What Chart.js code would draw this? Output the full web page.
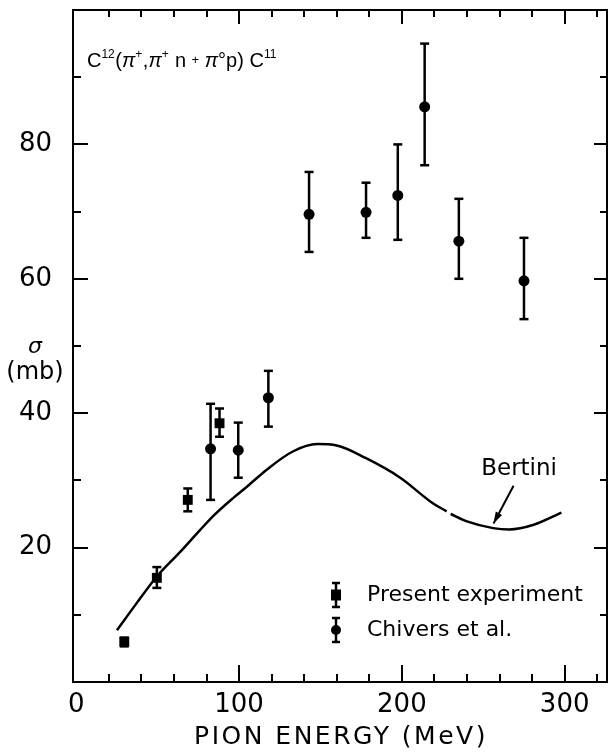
<!DOCTYPE html>
<html><head><meta charset="utf-8">
<script src="https://cdn.jsdelivr.net/npm/chart.js@4"></script>
<style>html,body{margin:0;padding:0;background:#fff;overflow:hidden}#wrap{width:614px;height:756px;position:relative}</style>
</head><body><div id="wrap"><canvas id="c"></canvas></div>
<script>
// ---- data ----
const presentEnergy = [29.5, 49.5, 68.5, 88];
const presentSigma  = [6.0, 15.5, 27.1, 38.5];
const presentLow    = [5.3, 14.0, 25.4, 36.5];
const presentHigh   = [6.6, 17.1, 28.8, 40.7];

const chiversEnergy = [82.5, 99.5, 118, 143, 178, 197.5, 214, 235, 275];
const chiversSigma  = [34.7, 34.5, 42.3, 69.6, 69.9, 72.4, 85.6, 65.6, 59.7];
const chiversLow    = [27.1, 30.4, 38.0, 64.0, 66.1, 65.8, 76.9, 60.0, 54.0];
const chiversHigh   = [41.4, 38.6, 46.3, 75.9, 74.3, 80.0, 95.0, 71.9, 66.1];

const bertiniEnergy = [25, 37, 49.5, 64, 76, 85, 96.5, 105, 117, 133, 148, 160, 178, 199, 219, 227.5, 228.7, 230, 240, 256, 266, 281, 298];
const bertiniSigma  = [7.7, 11.7, 15.7, 19.4, 22.6, 24.9, 27.4, 29.1, 31.6, 34.3, 35.4, 35.2, 33.3, 30.4, 26.6, 25.4, null, 25.0, 23.9, 22.9, 22.7, 23.4, 25.2];

const xTickValues  = [0, 20, 40, 60, 80, 100, 120, 140, 160, 180, 200, 220, 240, 260, 280, 300, 320];
const xLabelValues = [0, 100, 200, 300];
const yTickValues  = [10, 20, 30, 40, 50, 60, 70, 80, 90];
const yLabelValues = [20, 40, 60, 80];

const legendLabels = ['Present experiment', 'Chivers et al.'];
const curveName = 'Bertini';
const xAxisTitle = 'PION ENERGY (MeV)';
const yAxisSymbol = 'σ';
const yAxisUnit = '(mb)';

// ---- rendering ----
const F = '"DejaVu Sans", sans-serif';
const FT = '"Liberation Sans", Arial, sans-serif';
const toXY = (xs, ys) => xs.map((x, i) => ({x: x, y: ys[i]}));

function line(ctx, x1, y1, x2, y2) { ctx.beginPath(); ctx.moveTo(x1, y1); ctx.lineTo(x2, y2); ctx.stroke(); }
function zeroPad(s) { s.paddingTop = 0; s.paddingBottom = 0; s.paddingLeft = 0; s.paddingRight = 0; }

const framePlugin = {
  id: 'frame',
  beforeDatasetsDraw(chart) {
    const ctx = chart.ctx, ca = chart.chartArea, xs = chart.scales.x, ys = chart.scales.y;
    ctx.save();
    ctx.strokeStyle = '#000'; ctx.lineWidth = 2; ctx.lineCap = 'butt';
    ctx.strokeRect(ca.left, ca.top, ca.right - ca.left, ca.bottom - ca.top);
    xs.ticks.forEach(t => {
      if (t.value <= 0 || t.value >= xs.max) return;
      const px = Math.round(xs.getPixelForValue(t.value));
      const major = t.value % 100 === 0;
      line(ctx, px, ca.bottom, px, ca.bottom - (major ? 17 : 8));
      line(ctx, px, ca.top, px, ca.top + (major ? 14 : 7));
    });
    ys.ticks.forEach(t => {
      if (t.value <= 0 || t.value >= ys.max) return;
      const py = Math.round(ys.getPixelForValue(t.value));
      const major = t.value % 20 === 0;
      line(ctx, ca.left, py, ca.left + (major ? 15 : 8), py);
      line(ctx, ca.right, py, ca.right - (major ? 13 : 7), py);
    });
    // error bars
    chart.data.datasets.forEach((ds, i) => {
      if (!ds.errLow) return;
      const meta = chart.getDatasetMeta(i);
      meta.data.forEach((pt, j) => {
        const x = pt.x;
        const yl = ys.getPixelForValue(ds.errLow[j]);
        const yh = ys.getPixelForValue(ds.errHigh[j]);
        ctx.lineWidth = 2.5;
        line(ctx, x, yl, x, yh);
        line(ctx, x - 4.5, yl, x + 4.5, yl);
        line(ctx, x - 4.5, yh, x + 4.5, yh);
      });
    });
    ctx.restore();
  },
  afterDraw(chart) {
    const ctx = chart.ctx, ca = chart.chartArea, xs = chart.scales.x, ys = chart.scales.y;
    ctx.save();
    ctx.fillStyle = '#000'; ctx.strokeStyle = '#000';
    // reaction title
    const runs = [
      {t: 'C'}, {t: '12', sup: 1}, {t: '('}, {t: 'π', it: 1}, {t: '+', sup: 1}, {t: ','},
      {t: 'π', it: 1}, {t: '+', sup: 1}, {t: ' n '}, {t: '+', small: 1}, {t: ' '},
      {t: 'π', it: 1}, {t: '°'}, {t: 'p'}, {t: ') C'}, {t: '11', sup: 1}
    ];
    let x = ca.left + 14; const base = ca.top + 57;
    ctx.textAlign = 'left'; ctx.textBaseline = 'alphabetic';
    runs.forEach(r => {
      let size = 20, dy = 0, style = '';
      if (r.sup) { size = 12; dy = -9; }
      if (r.small) { size = 13; dy = -3; }
      if (r.it) style = 'italic ';
      ctx.font = style + size + 'px ' + FT;
      ctx.fillText(r.t, x, base + dy);
      x += ctx.measureText(r.t).width + (r.sup ? 0.5 : 0);
    });
    // y-axis title
    ctx.textAlign = 'center'; ctx.textBaseline = 'middle';
    ctx.font = 'italic 22px ' + F;
    ctx.fillText(yAxisSymbol, 35, ys.getPixelForValue(50) + 1);
    ctx.font = '24px ' + F;
    ctx.fillText(yAxisUnit, 35, ys.getPixelForValue(50) + 27);
    // x-axis title
    ctx.font = '25px ' + F;
    ctx.letterSpacing = '2.5px';
    ctx.fillText(xAxisTitle, (ca.left + ca.right) / 2 + 1, 737);
    ctx.letterSpacing = '0px';
    // Bertini label and arrow
    ctx.font = '23px ' + F;
    ctx.fillText(curveName, xs.getPixelForValue(272), ys.getPixelForValue(31.7));
    const ax1 = xs.getPixelForValue(268.6), ay1 = ys.getPixelForValue(29.2);
    const ax2 = xs.getPixelForValue(256.3), ay2 = ys.getPixelForValue(23.6);
    ctx.lineWidth = 2;
    line(ctx, ax1, ay1, ax2, ay2);
    const ang = Math.atan2(ay2 - ay1, ax2 - ax1);
    ctx.beginPath();
    ctx.moveTo(ax2, ay2);
    ctx.lineTo(ax2 - 12 * Math.cos(ang - 0.3), ay2 - 12 * Math.sin(ang - 0.3));
    ctx.lineTo(ax2 - 12 * Math.cos(ang + 0.3), ay2 - 12 * Math.sin(ang + 0.3));
    ctx.closePath(); ctx.fill();
    // legend
    ctx.textAlign = 'left'; ctx.font = '22px ' + F;
    const lx = 336, rows = [595, 630];
    ctx.lineWidth = 2.5;
    legendLabels.forEach((lab, i) => {
      const y = rows[i];
      line(ctx, lx, y - 12, lx, y + 12);
      line(ctx, lx - 4, y - 12, lx + 4, y - 12);
      line(ctx, lx - 4, y + 12, lx + 4, y + 12);
      if (i === 0) ctx.fillRect(lx - 5, y - 5.5, 10, 11);
      else { ctx.beginPath(); ctx.arc(lx, y, 5, 0, Math.PI * 2); ctx.fill(); }
      ctx.fillText(lab, lx + 31, y);
    });
    ctx.restore();
  }
};

new Chart(document.getElementById('c'), {
  data: {
    datasets: [
      {
        type: 'line', label: curveName,
        data: toXY(bertiniEnergy, bertiniSigma),
        borderColor: '#000', borderWidth: 2.5, pointRadius: 0,
        tension: 0.4, cubicInterpolationMode: 'monotone', spanGaps: false, fill: false
      },
      {
        type: 'scatter', label: legendLabels[0],
        data: toXY(presentEnergy, presentSigma),
        errLow: presentLow, errHigh: presentHigh,
        pointStyle: 'rect', pointRadius: 7, backgroundColor: '#000', borderColor: '#000', borderWidth: 0
      },
      {
        type: 'scatter', label: legendLabels[1],
        data: toXY(chiversEnergy, chiversSigma),
        errLow: chiversLow, errHigh: chiversHigh,
        pointStyle: 'circle', pointRadius: 5.5, backgroundColor: '#000', borderColor: '#000', borderWidth: 0
      }
    ]
  },
  options: {
    responsive: true, maintainAspectRatio: false, animation: false, devicePixelRatio: 1,
    layout: { padding: { top: 10, right: 1, left: 0, bottom: 0 } },
    plugins: { legend: { display: false }, tooltip: { enabled: false } },
    scales: {
      x: {
        type: 'linear', position: 'bottom', min: -2, max: 326,
        grid: { display: false, drawTicks: false }, border: { display: false },
        afterBuildTicks: s => { s.ticks = xTickValues.map(v => ({ value: v })); },
        afterFit: s => { s.height = 74; zeroPad(s); },
        ticks: {
          autoSkip: false, maxRotation: 0, padding: 8, color: '#000',
          font: { family: F, size: 26 },
          callback: v => xLabelValues.includes(v) ? String(v) : ''
        }
      },
      y: {
        type: 'linear', position: 'left', min: 0, max: 100,
        grid: { display: false, drawTicks: false }, border: { display: false },
        afterBuildTicks: s => { s.ticks = yTickValues.map(v => ({ value: v })); },
        afterFit: s => { s.width = 73; zeroPad(s); },
        ticks: {
          autoSkip: false, padding: 21, color: '#000',
          font: { family: F, size: 26 },
          callback: v => yLabelValues.includes(v) ? String(v) : ''
        }
      }
    }
  },
  plugins: [framePlugin]
});
</script></body></html>
